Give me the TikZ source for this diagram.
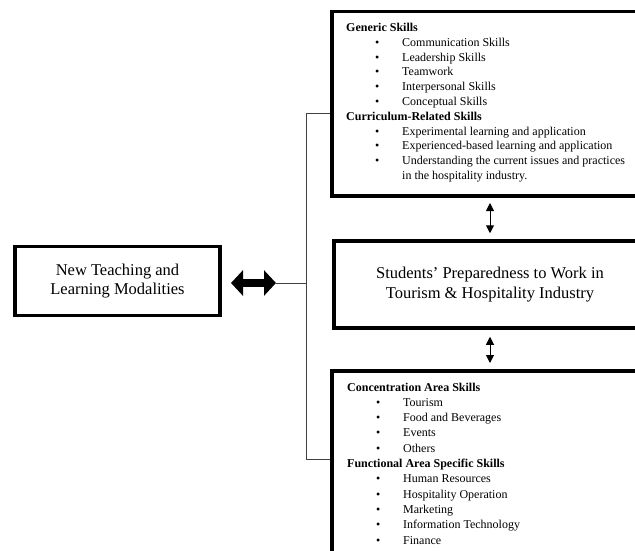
\documentclass[tikz,border=0pt]{standalone}
\usepackage{fontspec}
\setmainfont{Liberation Serif}
\usepackage{tikz}
\usetikzlibrary{arrows.meta}

\newcommand{\skillitem}[1]{\hspace*{29pt}\makebox[27pt][l]{\textbullet}#1}
\newcommand{\skillwrap}[1]{\hspace*{56pt}#1}

\begin{document}
\begin{tikzpicture}[x=1pt, y=-1pt,
  frame/.style={draw=black, line width=3.5pt, inner sep=0pt},
  listtext/.style={anchor=north west, inner sep=0pt, align=left, font=\fontsize{12}{14.8}\selectfont},
  maintext/.style={align=center, font=\fontsize{16.5}{19.5}\selectfont},
  link/.style={draw=black!75, line width=0.9pt},
  bigarrow/.style={line width=8pt, {Triangle[length=12pt,width=25pt]}-{Triangle[length=12pt,width=25pt]}},
  pairarrow/.style={line width=1pt, {Triangle[length=8pt,width=8pt]}-{Triangle[length=8pt,width=8pt]}}
]
\useasboundingbox (0,0) rectangle (635,551);
\clip (0,0) rectangle (635,551);
% left box
\node[frame, maintext, minimum width=205, minimum height=69] (modal) at (117.5,281) {New Teaching and\\Learning Modalities};
% middle box
\node[frame, maintext, minimum width=312, minimum height=87] (prep) at (490,284.5) {Students’ Preparedness to Work in\\Tourism \& Hospitality Industry};
% upper skills box
\node[frame, anchor=north west, minimum width=330, minimum height=184] (genbox) at (330,10) {};
\node[listtext] (gentext) at (346,23) {\textbf{Generic Skills}\\
  \skillitem{Communication Skills}\\
  \skillitem{Leadership Skills}\\
  \skillitem{Teamwork}\\
  \skillitem{Interpersonal Skills}\\
  \skillitem{Conceptual Skills}\\
  \textbf{Curriculum-Related Skills}\\
  \skillitem{Experimental learning and application}\\
  \skillitem{Experienced-based learning and application}\\
  \skillitem{Understanding the current issues and practices}\\
  \skillwrap{in the hospitality industry.}};
% lower skills box
\node[frame, anchor=north west, minimum width=330, minimum height=200] (lowbox) at (330,369) {};
\node[listtext, font=\fontsize{12}{15.3}\selectfont] (lowtext) at (347,382.5) {\textbf{Concentration Area Skills}\\
  \skillitem{Tourism}\\
  \skillitem{Food and Beverages}\\
  \skillitem{Events}\\
  \skillitem{Others}\\
  \textbf{Functional Area Specific Skills}\\
  \skillitem{Human Resources}\\
  \skillitem{Hospitality Operation}\\
  \skillitem{Marketing}\\
  \skillitem{Information Technology}\\
  \skillitem{Finance}};
% bracket
\coordinate (jtop) at (306,113);
\coordinate (jmid) at (306,283);
\coordinate (jbot) at (306,459);
\coordinate (tipl) at (231,283);
\coordinate (tipr) at (276,283);
\draw[link] (genbox.west |- jtop) -- (jtop) -- (jbot) -- (lowbox.west |- jbot);
\draw[link] (tipr) -- (jmid);
\draw[bigarrow] (tipl) -- (tipr);
% small arrows
\draw[pairarrow, shorten <=5.5pt, shorten >=6pt] (genbox.south -| prep.north) -- (prep.north);
\draw[pairarrow, shorten <=7pt, shorten >=6pt] (prep.south) -- (lowbox.north -| prep.south);
\end{tikzpicture}
\end{document}
